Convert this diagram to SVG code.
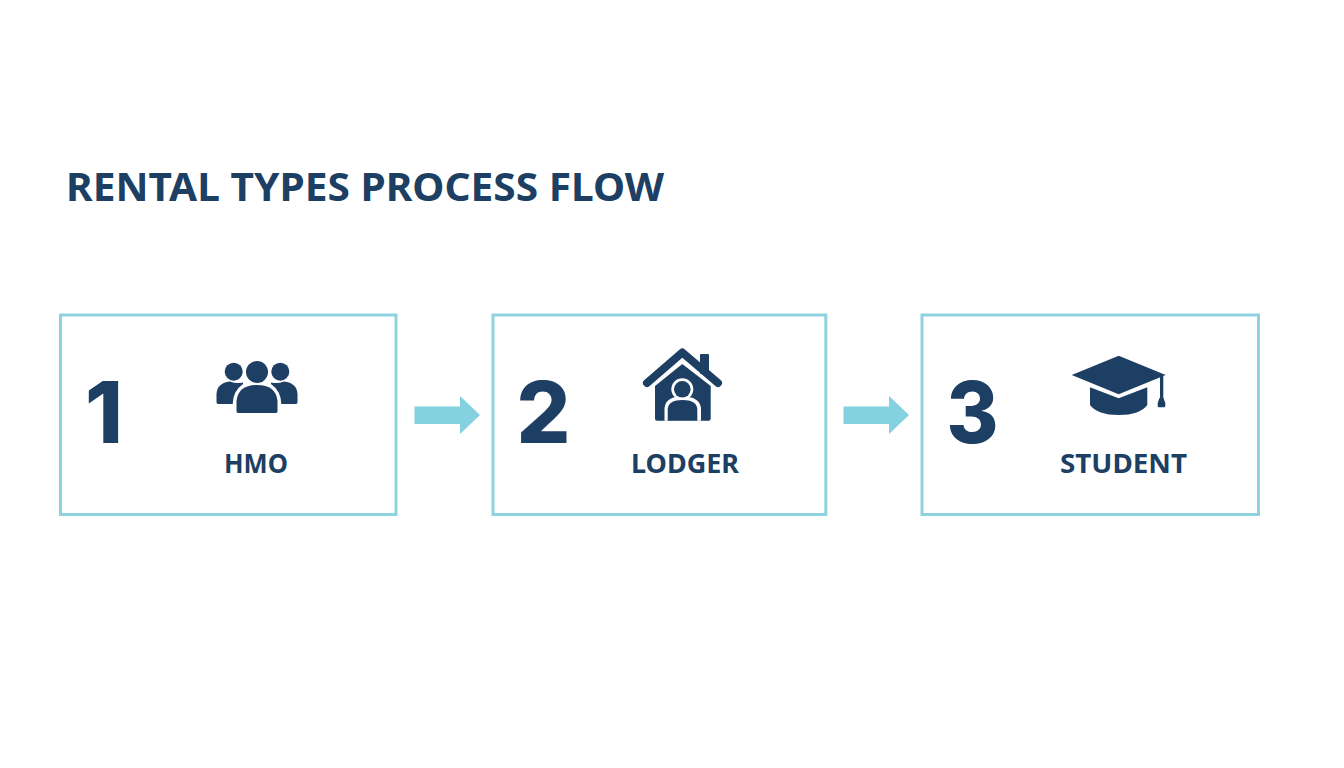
<svg xmlns="http://www.w3.org/2000/svg" width="1344" height="768" viewBox="0 0 1344 768">
<style>
.box{fill:#fff;stroke:#8ed1df;stroke-width:3}
.title{font:700 39px "Noto Sans",sans-serif;fill:#1c3f63}
.num{font:800 85px Inter,"Noto Sans",sans-serif;fill:#1c3f63;text-anchor:middle}
.lab{font:700 26px "Noto Sans",sans-serif;fill:#1c3f63;text-anchor:middle}
.ic{fill:#1c3f63}
.arr{fill:#84d1df}
</style>
<rect width="1344" height="768" fill="#fff"/>
<text id="title" class="title" x="66" y="200.500" textLength="598" lengthAdjust="spacingAndGlyphs">RENTAL TYPES PROCESS FLOW</text>
<g id="connectors">
<path class="arr" d="M414.500 406.500H460V396L480 415L460 434V424H414.500Z"/>
<path class="arr" d="M843.500 406.500H889V396L909 415L889 434V424H843.500Z"/>
</g>
<g id="node-1">
<rect class="box" x="60.500" y="315" width="335.500" height="199.500"/>
<text class="num" x="104" y="442.500" textLength="38" lengthAdjust="spacingAndGlyphs">1</text>
<g class="ic">
<circle cx="233.700" cy="371.700" r="9"/><circle cx="280.300" cy="371.700" r="9"/><circle cx="257" cy="372" r="11"/>
<path d="M218 404Q216.500 404 216.500 402V394Q217 383 230 381.500Q236 384 243 382.500L243 384Q233 391 232.700 404Z"/>
<path d="M296 404Q297.500 404 297.500 402V394Q297 383 284 381.500Q278 384 271 382.500L271 384Q281 391 281.300 404Z"/>
<path d="M238 413Q236.500 413 236.500 411V401Q238 385 257 385T277.500 401V411Q277.500 413 276 413Z"/>
</g>
<text class="lab" x="256" y="473.300" textLength="64" lengthAdjust="spacingAndGlyphs">HMO</text>
</g>
<g id="node-2">
<rect class="box" x="493" y="315" width="332.800" height="199.500"/>
<text class="num" x="543.500" y="442.500" textLength="54" lengthAdjust="spacingAndGlyphs">2</text>
<g class="ic">
<rect x="700" y="354" width="9" height="20" rx="1"/>
<path d="M647 383L682.300 352.500L718 383" fill="none" stroke="#1c3f63" stroke-width="8" stroke-linecap="round" stroke-linejoin="round"/>
<path d="M655 386L682.300 364L710.700 386V418.500Q710.700 420.700 708.500 420.700H657Q655 420.700 655 418.500Z"/>
<path d="M664.500 420.700V408Q665.500 396.500 682.500 396.500T701 408V420.700Z" fill="#fff"/>
<circle cx="682.300" cy="389.300" r="11" fill="#fff"/>
<circle cx="682.300" cy="389.300" r="8.300"/>
<path d="M667.700 420.700V409Q668.500 400 682.500 400T697.300 409V420.700Z"/>
</g>
<text class="lab" x="685" y="473.300" textLength="108" lengthAdjust="spacingAndGlyphs">LODGER</text>
</g>
<g id="node-3">
<rect class="box" x="922" y="315" width="336.500" height="199.500"/>
<text class="num" x="972.500" y="442.500" textLength="52" lengthAdjust="spacingAndGlyphs">3</text>
<g class="ic">
<path d="M1071.700 375L1118.700 355.700L1165.700 375L1118.700 394.300Z"/>
<path d="M1090 387.300L1118.700 398.300L1147.300 387.300V405Q1140 415 1118.700 415T1090 405Z"/>
<rect x="1160" y="376" width="3.300" height="23"/>
<path d="M1159.500 398H1163.500L1165.300 403V406Q1165.300 407.300 1164 407.300H1159Q1157.700 407.300 1157.700 406V403Z"/>
</g>
<text class="lab" x="1123.500" y="473.300" textLength="127" lengthAdjust="spacingAndGlyphs">STUDENT</text>
</g>
</svg>
